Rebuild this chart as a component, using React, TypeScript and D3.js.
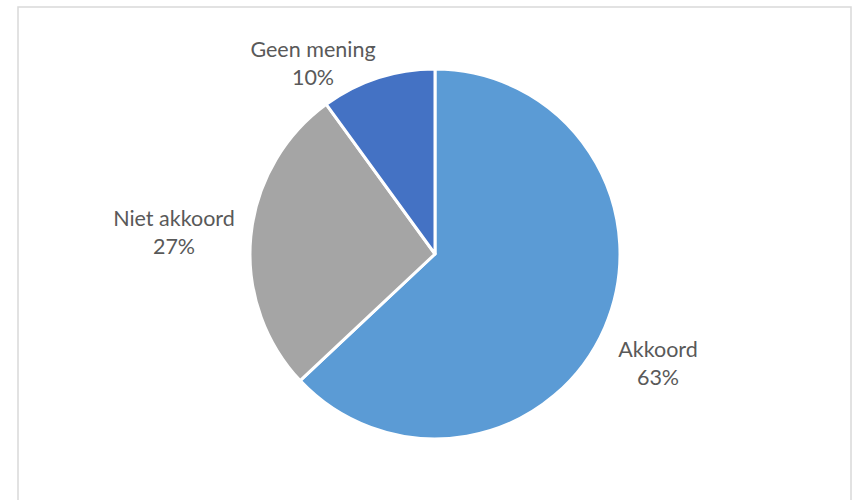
import React from "react";
import * as d3 from "d3";

const categories = ["Akkoord", "Niet akkoord", "Geen mening"];
const values = [63, 27, 10];
const labels = ["63%", "27%", "10%"];
const colors = ["#5B9BD5", "#A5A5A5", "#4472C4"];

const W = 852;
const H = 500;
const cx = 435;
const cy = 254;
const R = 185;

// label anchor positions (centre, first baseline) relative to pie centre
const labelPos: [number, number][] = [
  [223, 103],
  [-261, -28],
  [-122, -197],
];

export default function App() {
  const pie = d3.pie<number>().sort(null).value((d) => d);
  const arcs = pie(values);
  const arc = d3.arc<d3.PieArcDatum<number>>().innerRadius(0).outerRadius(R);
  return (
    <svg
      width={W}
      height={H}
      style={{ position: "absolute", left: 0, top: 0, background: "#fff" }}
    >
      <rect x={18} y={7} width={833} height={520} fill="#fff" stroke="#d9d9d9" strokeWidth={1.5} />
      <g transform={`translate(${cx},${cy})`}>
        {arcs.map((a, i) => (
          <path key={i} d={arc(a) || ""} fill={colors[i]} stroke="#fff" strokeWidth={3} strokeLinejoin="round" />
        ))}
        {arcs.map((a, i) => (
          <text
            key={"t" + i}
            x={labelPos[i][0]}
            y={labelPos[i][1]}
            textAnchor="middle"
            fill="#595959"
            fontFamily="Lato, 'Open Sans', sans-serif"
            fontSize={21.5}
          >
            <tspan x={labelPos[i][0]} y={labelPos[i][1]}>{categories[i]}</tspan>
            <tspan x={labelPos[i][0]} y={labelPos[i][1] + 28}>{labels[i]}</tspan>
          </text>
        ))}
      </g>
    </svg>
  );
}
